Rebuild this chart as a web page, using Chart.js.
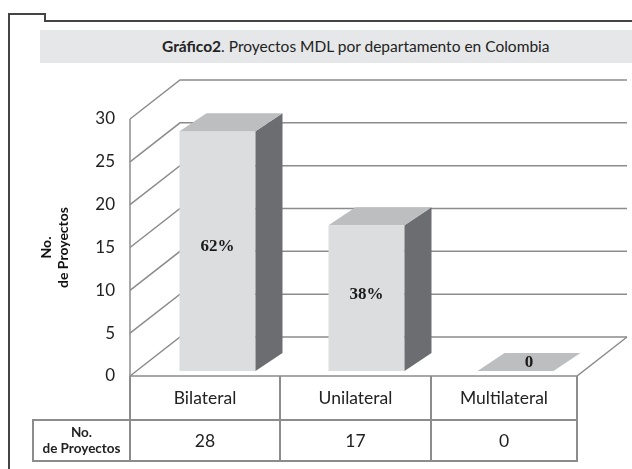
<!DOCTYPE html>
<html>
<head>
<meta charset="utf-8">
<script src="https://cdn.jsdelivr.net/npm/chart.js@4/dist/chart.umd.min.js"></script>
<style>
  body { margin: 0; background: #fff; font-family: Lato, 'Open Sans', sans-serif; color: #222; }
  #wrap { position: relative; width: 632px; height: 469px; overflow: hidden; }
  #chart { position: absolute; left: 0; top: 0; }
  .ln { position: absolute; background: #444; }
  .tl { position: absolute; background: #8c8c8c; }
  #band { position: absolute; left: 40px; top: 30px; width: 592px; height: 33px; background: #e6e7e8; }
  #title { position: absolute; left: 162px; top: 30px; height: 33px; line-height: 33px; font-size: 15.5px; white-space: nowrap; }
  .cell { position: absolute; text-align: center; font-size: 17.5px; }
  .rowlab { position: absolute; left: 33px; top: 420px; width: 97px; height: 41px; text-align: center;
            font-size: 13.5px; font-weight: bold; line-height: 16px; padding-top: 4px; box-sizing: border-box; }
</style>
</head>
<body>
<div id="wrap">
  <!-- page frame -->
  <div class="ln" style="left:8px;top:13px;width:2px;height:456px"></div>
  <div class="ln" style="left:8px;top:13px;width:38px;height:2px"></div>
  <div class="ln" style="left:44px;top:13px;width:2px;height:9px"></div>
  <div class="ln" style="left:44px;top:20px;width:588px;height:2px"></div>

  <div id="band"></div>
  <div id="title"><b>Gráfico2</b>. Proyectos MDL por departamento en Colombia</div>

  <canvas id="chart" width="632" height="469"></canvas>
  <div id="table"></div>
</div>

<script>
// Data
const categories = ['Bilateral', 'Unilateral', 'Multilateral'];
const projectCounts = [28, 17, 0];
const yTicks = [0, 5, 10, 15, 20, 25, 30];
const rowLabel = ['No.', 'de Proyectos'];

// 3D offsets
const wall = { dx: 50, dy: -39 };
const barShift = { dx: 13, dy: -5 };
const barDepth = { dx: 27, dy: -18 };

const total = projectCounts.reduce((a, b) => a + b, 0);

const box3d = {
    id: 'box3d',
    beforeDatasetsDraw(chart) {
        const { ctx, chartArea: a, scales: { y } } = chart;
        ctx.save();
        ctx.lineWidth = 1.5;
        ctx.strokeStyle = '#8c8c8c';
        yTicks.forEach(v => {
            const py = y.getPixelForValue(v);
            ctx.beginPath();
            ctx.moveTo(a.left, py);
            ctx.lineTo(a.left + wall.dx, py + wall.dy);
            ctx.lineTo(a.right + wall.dx, py + wall.dy);
            ctx.stroke();
        });
        // floor front edge + right side
        const y0 = y.getPixelForValue(0);
        ctx.beginPath();
        ctx.moveTo(a.left, y0);
        ctx.lineTo(a.right, y0);
        ctx.lineTo(a.right + wall.dx, y0 + wall.dy);
        ctx.stroke();
        // axis line
        ctx.beginPath();
        ctx.moveTo(a.left, y.getPixelForValue(yTicks[yTicks.length - 1]));
        ctx.lineTo(a.left, y0);
        ctx.stroke();
        ctx.restore();
    },
    afterDatasetsDraw(chart) {
        const { ctx } = chart;
        const meta = chart.getDatasetMeta(0);
        ctx.save();
        meta.data.forEach((bar, i) => {
            const w = bar.width;
            const xl = bar.x - w / 2 + barShift.dx;
            const xr = bar.x + w / 2 + barShift.dx;
            const yt = bar.y + barShift.dy;
            const yb = bar.base + barShift.dy;
            const v = projectCounts[i];
            if (v > 0) {
                ctx.fillStyle = '#dcdddf';
                ctx.fillRect(xl, yt, xr - xl, yb - yt);
                ctx.fillStyle = '#6c6d70';
                ctx.beginPath();
                ctx.moveTo(xr, yt);
                ctx.lineTo(xr + barDepth.dx, yt + barDepth.dy);
                ctx.lineTo(xr + barDepth.dx, yb + barDepth.dy);
                ctx.lineTo(xr, yb);
                ctx.closePath();
                ctx.fill();
            }
            ctx.fillStyle = '#bdbec0';
            ctx.beginPath();
            ctx.moveTo(xl, yt);
            ctx.lineTo(xl + barDepth.dx, yt + barDepth.dy);
            ctx.lineTo(xr + barDepth.dx, yt + barDepth.dy);
            ctx.lineTo(xr, yt);
            ctx.closePath();
            ctx.fill();

            // label
            ctx.fillStyle = '#1a1a1a';
            ctx.font = 'bold 17px "Liberation Serif", serif';
            ctx.textAlign = 'center';
            ctx.textBaseline = 'middle';
            if (v > 0) {
                const pct = Math.round(v / total * 100) + '%';
                ctx.fillText(pct, (xl + xr) / 2, (yt + yb) / 2 - 4);
            } else {
                ctx.fillText('0', (xl + xr) / 2 + barDepth.dx / 2, yt + barDepth.dy / 2 + 1);
            }
        });
        ctx.restore();
    }
};

new Chart(document.getElementById('chart'), {
    type: 'bar',
    data: {
        labels: categories,
        datasets: [{
            data: projectCounts,
            backgroundColor: 'rgba(0,0,0,0)',
            categoryPercentage: 1,
            barPercentage: 0.51
        }]
    },
    options: {
        responsive: false,
        animation: false,
        devicePixelRatio: 1,
        layout: { padding: { top: 119, right: 55, bottom: 93, left: 0 } },
        plugins: { legend: { display: false }, tooltip: { enabled: false } },
        scales: {
            x: { display: false },
            y: {
                min: yTicks[0],
                max: yTicks[yTicks.length - 1],
                afterFit(scale) { scale.width = 130; },
                grid: { display: false },
                border: { display: false },
                ticks: {
                    stepSize: yTicks[1] - yTicks[0],
                    padding: 7,
                    color: '#222',
                    font: { family: 'Lato', size: 17 }
                },
                title: {
                    display: true,
                    text: rowLabel,
                    color: '#111',
                    padding: { top: 38, bottom: 0 },
                    font: { family: 'Lato', size: 14, weight: 'bold', lineHeight: 1.2 }
                }
            }
        }
    },
    plugins: [box3d]
});

// Data table below the chart
function buildTable() {
    const t = document.getElementById('table');
    const cols = [130, 280, 431, 577];
    let html = '';
    categories.forEach((c, i) => {
        const l = cols[i], w = cols[i + 1] - cols[i];
        html += `<div class="cell" style="left:${l}px;top:376px;width:${w}px;height:44px;line-height:44px">${c}</div>`;
        html += `<div class="cell" style="left:${l}px;top:420px;width:${w}px;height:41px;line-height:42px">${projectCounts[i]}</div>`;
    });
    html += `<div class="rowlab">${rowLabel[0]}<br>${rowLabel[1]}</div>`;
    // table lines
    html += '<div class="tl" style="left:33px;top:419px;width:545px;height:2px"></div>';
    html += '<div class="tl" style="left:33px;top:460px;width:545px;height:2px"></div>';
    html += '<div class="tl" style="left:32px;top:419px;width:2px;height:43px"></div>';
    cols.forEach(x => {
        html += `<div class="tl" style="left:${x - 1}px;top:376px;width:2px;height:86px"></div>`;
    });
    t.innerHTML = html;
}
buildTable();
</script>
</body>
</html>
